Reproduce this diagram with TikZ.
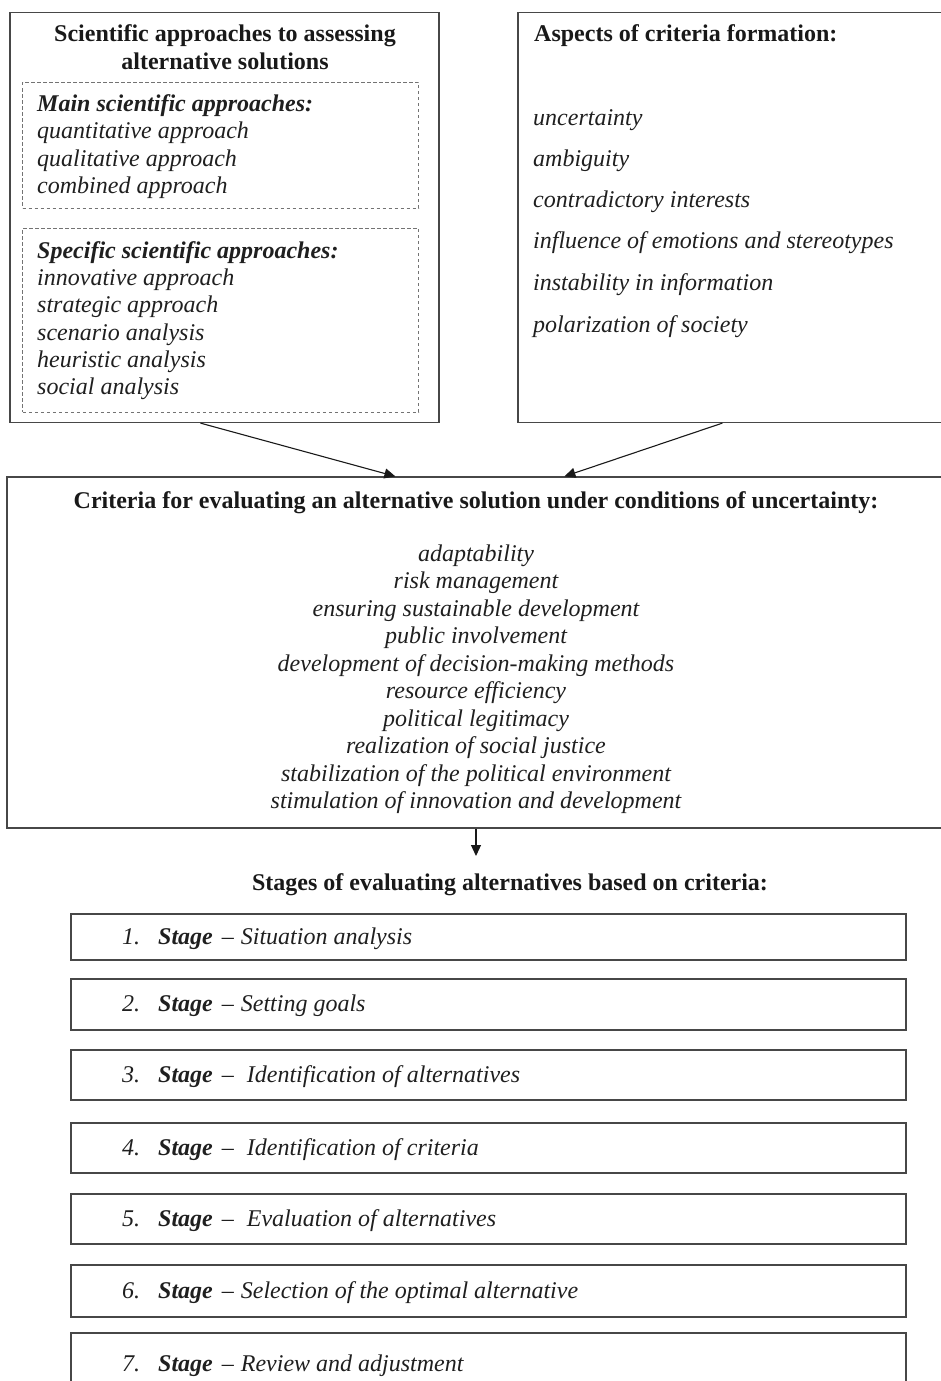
\documentclass[tikz,border=0pt]{standalone}
\usepackage{fontspec}
\setmainfont{Liberation Serif}
\usetikzlibrary{arrows.meta,calc}
\begin{document}
\begin{tikzpicture}[x=1pt,y=-1pt,
  frame/.style={draw=black!72,line width=1.2pt,inner sep=0pt},
  dbox/.style={draw=black!55,line width=1pt,dash pattern=on 3.5pt off 2.5pt,inner sep=0pt},
  it/.style={inner sep=0pt,anchor=base west,font=\fontsize{24}{28}\selectfont\itshape,text=black!88},
  itc/.style={it,anchor=base},
  bd/.style={inner sep=0pt,anchor=base,font=\fontsize{24}{28}\selectfont\bfseries,text=black!90},
  bdw/.style={bd,anchor=base west},
  bit/.style={it,font=\fontsize{24}{28}\selectfont\bfseries\itshape},
  arr/.style={draw=black!90,line width=1.1pt,-{Triangle[length=11pt,width=10pt]}}
]
\useasboundingbox (0,0) rectangle (940,1381);

% ---- top-left box
\node[frame,minimum width=429pt,minimum height=410pt] (L) at (224.5,217.5) {};
\node[bd] (Lt1) at (225,42) {Scientific approaches to assessing};
\node[bd] (Lt2) at (225,70) {alternative solutions};
\node[dbox,minimum width=396pt,minimum height=126pt] (D1) at (220.6,145) {};
\node[dbox,minimum width=396pt,minimum height=184pt] (D2) at (220.8,320) {};
\node[bit] (D1h) at (37,111) {Main scientific approaches:};
\foreach \t/\y [count=\i] in {quantitative approach/138,qualitative approach/166,combined approach/193}
  \node[it] (D1i\i) at (37,\y) {\t};
\node[bit] (D2h) at (37,258) {Specific scientific approaches:};
\foreach \t/\y [count=\i] in {innovative approach/285,strategic approach/312,scenario analysis/340,heuristic analysis/367,social analysis/394}
  \node[it] (D2i\i) at (37,\y) {\t};

% ---- top-right box
\node[frame,minimum width=427pt,minimum height=410pt] (R) at (731.5,217.5) {};
\node[bdw] (Rt) at (534,42) {Aspects of criteria formation:};
\foreach \t/\y [count=\i] in {uncertainty/125,ambiguity/166,contradictory interests/207,influence of emotions and stereotypes/248,instability in information/290,polarization of society/332}
  \node[it] (Ri\i) at (533,\y) {\t};

% ---- criteria box
\node[frame,minimum width=938pt,minimum height=351pt] (C) at (476,652.5) {};
\node[bd] (Ct) at (476,508) {Criteria for evaluating an alternative solution under conditions of uncertainty:};
\foreach \t [count=\i from 0] in {adaptability,risk management,ensuring sustainable development,public involvement,development of decision-making methods,resource efficiency,political legitimacy,realization of social justice,stabilization of the political environment,stimulation of innovation and development}
  \node[itc] (Ci\i) at (476,561+27.5*\i) {\t};

\draw[arr] ([xshift=191pt]L.south west) -- ([xshift=389pt]C.north west);
\draw[arr] ([xshift=205pt]R.south west) -- ([xshift=558pt]C.north west);

% ---- stages
\node[bd] (H) at (510,890) {Stages of evaluating alternatives based on criteria:};
\coordinate (tip) at (476,856);
\draw[arr] (C.south) -- (tip);

\foreach \a/\b/\n/\gap/\t in {914/960/1/7/Situation analysis,979/1030/2/7/Setting goals,1050/1100/3/13/Identification of alternatives,1123/1173/4/13/Identification of criteria,1194/1244/5/13/Evaluation of alternatives,1265/1317/6/7/Selection of the optimal alternative,1333/1395/7/7/Review and adjustment}
{
  \node[frame,minimum width=835pt,minimum height={(\b-\a)*1pt}] (S\n) at (488.5,{(\a+\b)/2}) {};
  \node[it] (St\n) at (122,{(\a+\b)/2+7}) {\makebox[36pt][l]{\n.}\textbf{Stage}\hspace{9pt}–\hspace{\gap pt}\t};
}
\end{tikzpicture}
\end{document}
